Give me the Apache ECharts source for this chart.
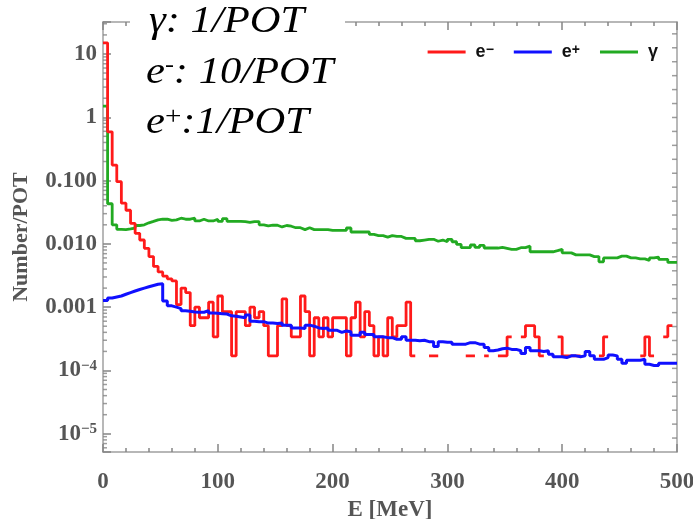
<!DOCTYPE html>
<html><head><meta charset="utf-8">
<script src="https://cdn.jsdelivr.net/npm/echarts@6/dist/echarts.min.js"></script>
<style>html,body{margin:0;padding:0;background:#fff}#c{width:693px;height:519px}</style>
</head><body><div id="c"></div>
<script>
// ---- data (bins of 4 MeV from 0 to 500 MeV) ----
const BIN_WIDTH = 4;
const seriesNames = ['e-', 'e+', 'γ'];
const legendLabels = ['e{s|−}', 'e{s|+}', 'γ'];
// e- (scaled x10)
const electronValues = [
 15, 0.59, 0.176, 0.096, 0.044, 0.034, 0.021, 0.0147, 0.0115, 0.0085,
 0.0063, 0.0044, 0.0036, 0.0031, 0.0028, 0.0026, 0.0011, 0.002, 0.0017, 5.1e-4,
 1.0e-3, 6.8e-4, 6.8e-4, 1.2e-3, 3.4e-4, 1.5e-3, 8.5e-4, 8.5e-4, 1.7e-4, 8.5e-4,
 8.5e-4, 5.1e-4, 1.0e-3, 6.8e-4, 8.5e-4, 5.1e-4, 1.7e-4, 1.7e-4, 5.1e-4, 1.35e-3,
 5.1e-4, 3.4e-4, 3.4e-4, 1.5e-3, 8.5e-4, 1.7e-4, 6.8e-4, 3.4e-4, 6.8e-4, 3.4e-4,
 6.8e-4, 6.8e-4, 6.8e-4, 1.7e-4, 6.8e-4, 1.2e-3, 3.4e-4, 8.5e-4, 5.1e-4, 1.7e-4,
 3.4e-4, 1.7e-4, 6.8e-4, 3.4e-4, 5.1e-4, 5.1e-4, 1.2e-3, 1.7e-4, null, null,
 null, 1.7e-4, 1.7e-4, null, null, null, null, null, null, 1.7e-4,
 1.7e-4, null, null, 1.7e-4, null, null, 1.7e-4, 1.7e-4, 3.4e-4, null,
 null, 3.4e-4, 5.1e-4, 5.1e-4, 3.4e-4, 1.7e-4, null, null, null, 3.4e-4,
 1.7e-4, 1.7e-4, 1.7e-4, 1.7e-4, null, null, null, null, 1.7e-4, 3.4e-4,
 null, null, null, null, null, null, null, 1.7e-4, 3.4e-4, 1.7e-4,
 null, null, 3.4e-4, 5.1e-4, null
];
const positronValues = [
 1.27e-3, 1.4e-3, 1.45e-3, 1.5e-3, 1.6e-3, 1.7e-3, 1.8e-3, 1.9e-3, 2.0e-3, 2.1e-3,
 2.2e-3, 2.3e-3, 2.35e-3, 1.25e-3, 1.05e-3, 1.0e-3, 9.5e-4, 8.8e-4, 8.6e-4, 8.4e-4,
 8.3e-4, 8.3e-4, 8.8e-4, 8.1e-4, 8.0e-4, 7.9e-4, 7.8e-4, 7.3e-4, 7.2e-4, 7.0e-4,
 6.8e-4, 7.5e-4, 6.0e-4, 5.9e-4, 5.9e-4, 5.6e-4, 5.6e-4, 5.5e-4, 5.6e-4, 5.2e-4,
 5.2e-4, 4.7e-4, 4.7e-4, 4.6e-4, 5.2e-4, 5.0e-4, 4.7e-4, 4.6e-4, 4.7e-4, 4.3e-4,
 4.3e-4, 4.0e-4, 4.2e-4, 4.1e-4, 3.6e-4, 3.6e-4, 4.0e-4, 3.7e-4, 3.7e-4, 3.4e-4,
 3.4e-4, 3.3e-4, 3.3e-4, 3.1e-4, 3.1e-4, 3.4e-4, 3.0e-4, 3.0e-4, 2.95e-4, 3.0e-4,
 2.85e-4, 2.85e-4, 2.4e-4, 2.85e-4, 2.8e-4, 2.8e-4, 2.6e-4, 2.6e-4, 2.6e-4, 2.75e-4,
 2.75e-4, 2.6e-4, 2.6e-4, 2.3e-4, 2.05e-4, 2.1e-4, 2.2e-4, 2.25e-4, 2.15e-4, 2.15e-4,
 2.05e-4, 1.86e-4, 2.3e-4, 2.05e-4, 2.05e-4, 2.0e-4, 2.05e-4, 1.8e-4, 1.65e-4, 1.65e-4,
 1.6e-4, 1.7e-4, 1.7e-4, 1.65e-4, 1.7e-4, 2.0e-4, 1.7e-4, 1.5e-4, 1.5e-4, 1.6e-4,
 1.75e-4, 1.7e-4, 1.5e-4, 1.3e-4, 1.45e-4, 1.45e-4, 1.45e-4, 1.5e-4, 1.25e-4, 1.2e-4,
 1.2e-4, 1.3e-4, 1.3e-4, 1.3e-4, 1.3e-4
];
const gammaValues = [
 1.5, 0.043, 0.020, 0.017, 0.0168, 0.0172, 0.0178, 0.0195, 0.020, 0.0215,
 0.0227, 0.024, 0.0245, 0.0245, 0.0235, 0.024, 0.0254, 0.0245, 0.0245, 0.0254,
 0.023, 0.0245, 0.023, 0.023, 0.0245, 0.0227, 0.025, 0.0227, 0.0227, 0.0227,
 0.0225, 0.0218, 0.0225, 0.0225, 0.020, 0.0193, 0.0197, 0.0197, 0.0185, 0.0195,
 0.019, 0.018, 0.018, 0.0168, 0.018, 0.0168, 0.0168, 0.0168, 0.0168, 0.0163,
 0.0163, 0.0163, 0.0163, 0.0178, 0.0154, 0.0154, 0.0154, 0.0154, 0.0141, 0.0135,
 0.0135, 0.0128, 0.0135, 0.0131, 0.0131, 0.0122, 0.0122, 0.0122, 0.0112, 0.0115,
 0.0118, 0.0118, 0.011, 0.0115, 0.0108, 0.0118, 0.0108, 0.0098, 0.0087, 0.0087,
 0.0096, 0.0088, 0.0095, 0.0086, 0.0086, 0.0086, 0.0088, 0.0085, 0.0082, 0.0082,
 0.0087, 0.0087, 0.0092, 0.0075, 0.0075, 0.0075, 0.0075, 0.0075, 0.0078, 0.0082,
 0.0072, 0.0072, 0.0067, 0.0067, 0.0067, 0.0067, 0.0063, 0.0063, 0.0052, 0.006,
 0.006, 0.006, 0.0064, 0.0064, 0.006, 0.006, 0.0058, 0.0058, 0.0055, 0.006,
 0.0062, 0.0057, 0.0057, 0.0051, 0.0051
];
// axis ticks and labels
const yMajorTicks = [10, 1, 0.1, 0.01, 0.001, 1e-4, 1e-5];
const yTickLabels = ['10', '1', '0.100', '0.010', '0.001', '{b|10}{s|−4}', '{b|10}{s|−5}'];
const yMinorMultipliers = [2, 3, 4, 5, 6, 7, 8, 9];
const rightTickCount = 31;
const annotationLines = [
  'γ: 1/POT',
  'e{s|-}: 10/POT',
  'e{s|+}:1/POT'
];

// ---- chart ----
const Y_MIN = 5.15e-6, Y_MAX = 32;
const X_MIN = 0, X_MAX = 500;
const FRAME = '#a0a0a0';
const TICK = '#858585';
const LABEL = '#555555';
const SERIF = '"Liberation Serif","Times New Roman",serif';
const SANS = '"Liberation Sans",Arial,sans-serif';
const COLORS = ['#ff1a1a', '#1010ff', '#22aa22'];

function histData(vals) {
  const pts = [];
  vals.forEach((v, i) => {
    const x0 = i * BIN_WIDTH, x1 = (i + 1) * BIN_WIDTH;
    if (v == null) { pts.push([x0, '-']); return; }
    pts.push([x0, v], [x1, v]);
  });
  return pts;
}

// minor ticks of the left log axis (k x 10^n) and even ticks of the right frame
const leftMinorTicks = [];
[1e-6, 1e-5, 1e-4, 1e-3, 1e-2, 0.1, 1, 10].forEach(d => yMinorMultipliers.forEach(k => {
  const v = d * k;
  if (v > Y_MIN && v < Y_MAX) leftMinorTicks.push([X_MIN, v]);
}));
const LMIN = Math.log10(Y_MIN), LMAX = Math.log10(Y_MAX);
const rightTicks = [];
for (let k = 1; k < rightTickCount; k++) {
  rightTicks.push([X_MAX, Math.pow(10, LMIN + k * (LMAX - LMIN) / 30.85)]);
}

const labelMap = {};
yMajorTicks.forEach((v, i) => labelMap[Math.round(Math.log10(v))] = yTickLabels[i]);
const legendMap = {};
seriesNames.forEach((n, i) => legendMap[n] = legendLabels[i]);

function labelStyle() { return {fontFamily: SERIF, fontWeight: 'bold', fontSize: 23, color: LABEL}; }
function axisLine() { return {show: true, onZero: false, lineStyle: {color: FRAME, width: 1.5}}; }
function majorTick() { return {show: true, inside: true, length: 8, lineStyle: {color: TICK, width: 1.5}}; }
function minorTick() { return {show: true, splitNumber: 5, length: 4, lineStyle: {color: TICK, width: 1.5}}; }

const chart = echarts.init(document.getElementById('c'), null, {renderer: 'canvas'});
chart.setOption({
  animation: false,
  backgroundColor: '#fff',
  grid: {left: 103, right: 16, top: 22, bottom: 67, containLabel: false, outerBoundsMode: 'none'},
  legend: {
    top: 38, right: 30, itemWidth: 38, itemHeight: 3, itemGap: 20, icon: 'rect',
    data: seriesNames,
    formatter: n => legendMap[n],
    textStyle: {fontFamily: SANS, fontWeight: 'bold', fontSize: 18, color: '#111', padding: [0, 0, 0, 5],
      rich: {s: {fontFamily: SANS, fontWeight: 'bold', fontSize: 14, color: '#111', verticalAlign: 'top', lineHeight: 12}}}
  },
  xAxis: [
    {type: 'value', position: 'bottom', min: X_MIN, max: X_MAX, interval: 100,
     name: 'E [MeV]', nameLocation: 'middle', nameGap: 44,
     nameTextStyle: labelStyle(),
     axisLine: axisLine(), axisTick: majorTick(), minorTick: minorTick(),
     axisLabel: Object.assign({show: true, margin: 19}, labelStyle()),
     splitLine: {show: false}, minorSplitLine: {show: false}},
    {type: 'value', position: 'top', min: X_MIN, max: X_MAX, interval: 100,
     axisLine: axisLine(), axisTick: majorTick(), minorTick: minorTick(),
     axisLabel: {show: false}, splitLine: {show: false}, minorSplitLine: {show: false}}
  ],
  yAxis: [
    {type: 'log', logBase: 10, min: Y_MIN, max: Y_MAX, position: 'left',
     name: 'Number/POT', nameLocation: 'middle', nameRotate: 90, nameGap: 71,
     nameTextStyle: Object.assign(labelStyle(), {fontSize: 22}),
     axisLine: axisLine(), axisTick: majorTick(),
     axisLabel: Object.assign({show: true, margin: 6,
       formatter: v => { const e = Math.log10(v); return Math.abs(e - Math.round(e)) < 1e-6 ? (labelMap[Math.round(e)] || '') : ''; },
       rich: {b: {fontFamily: SERIF, fontWeight: 'bold', fontSize: 23, color: LABEL, lineHeight: 24},
              s: {fontFamily: SERIF, fontWeight: 'bold', fontSize: 15, color: LABEL, verticalAlign: 'top', lineHeight: 14}}
     }, labelStyle()),
     splitLine: {show: false}},
    {type: 'value', position: 'right', min: 0, max: 1,
     axisLine: axisLine(), axisTick: {show: false},
     axisLabel: {show: false}, splitLine: {show: false}}
  ],
  series: [
    {name: 'leftMinor', type: 'scatter', xAxisIndex: 0, yAxisIndex: 0, silent: true, z: 1,
     data: leftMinorTicks, symbol: 'rect', symbolSize: [4, 1.5], symbolOffset: [2, 0],
     itemStyle: {color: TICK}},
    {name: 'rightTicks', type: 'scatter', xAxisIndex: 0, yAxisIndex: 0, silent: true, z: 1,
     data: rightTicks, symbol: 'rect', symbolSize: [5, 1.5], symbolOffset: [-2.5, 0],
     itemStyle: {color: TICK}},
    {name: seriesNames[0], type: 'line', xAxisIndex: 0, yAxisIndex: 0, data: histData(electronValues),
     symbol: 'none', showSymbol: false, connectNulls: false, lineStyle: {color: COLORS[0], width: 2.8}, itemStyle: {color: COLORS[0]}, z: 3},
    {name: seriesNames[1], type: 'line', xAxisIndex: 0, yAxisIndex: 0, data: histData(positronValues),
     symbol: 'none', showSymbol: false, lineStyle: {color: COLORS[1], width: 3}, itemStyle: {color: COLORS[1]}, z: 4},
    {name: seriesNames[2], type: 'line', xAxisIndex: 0, yAxisIndex: 0, data: histData(gammaValues),
     symbol: 'none', showSymbol: false, lineStyle: {color: COLORS[2], width: 2.8}, itemStyle: {color: COLORS[2]}, z: 2}
  ],
  graphic: [
    {type: 'rect', z: 100, shape: {x: 130, y: 0, width: 215, height: 145}, style: {fill: '#fff'}},
    {type: 'text', z: 101, x: 149, y: 22, scaleX: 1.12, style: {text: annotationLines[0], fontFamily: SERIF, fontStyle: 'italic', fontSize: 38, fill: '#000', verticalAlign: 'middle'}},
    {type: 'text', z: 101, x: 146, y: 73, scaleX: 1.12, style: {text: annotationLines[1], fontFamily: SERIF, fontStyle: 'italic', fontSize: 38, fill: '#000', verticalAlign: 'middle',
      rich: {s: {fontFamily: SERIF, fontStyle: 'italic', fontSize: 24, verticalAlign: 'top', lineHeight: 30, fill: '#000'}}}},
    {type: 'text', z: 101, x: 146, y: 123, scaleX: 1.12, style: {text: annotationLines[2], fontFamily: SERIF, fontStyle: 'italic', fontSize: 38, fill: '#000', verticalAlign: 'middle',
      rich: {s: {fontFamily: SERIF, fontStyle: 'normal', fontSize: 26, verticalAlign: 'top', lineHeight: 30, fill: '#000'}}}}
  ]
});
</script></body></html>
